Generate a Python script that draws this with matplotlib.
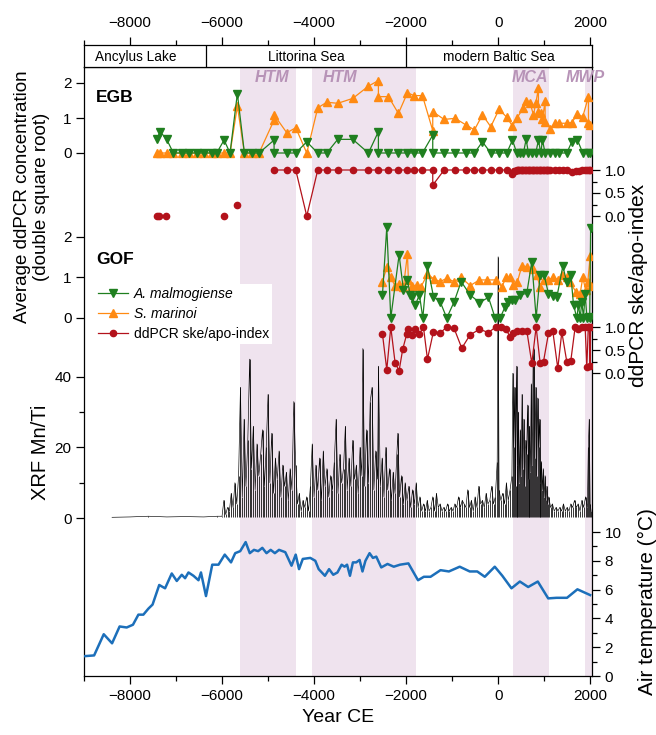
import matplotlib
matplotlib.use('Agg')
import matplotlib.pyplot as plt
from matplotlib.ticker import MultipleLocator, FixedLocator, FormatStrFormatter

plt.rcParams['font.family'] = ['Liberation Sans', 'DejaVu Sans']

# ---------------- data ----------------
periods = ['Ancylus Lake', 'Littorina Sea', 'modern Baltic Sea']
period_bounds = [-9000, -6350, -2000, 2040]
period_label_x = [-7870, -4175, 15]
warm_names = ['HTM', 'HTM', 'MCA', 'MWP']
warm_spans = [(-5600, -4400), (-4050, -1780), (320, 1110), (1880, 2040)]
warm_label_x = [-4913, -3435, 696, 1900]

egb_am_year = [-7420, -7348, -7203, -7058, -6877, -6710, -6551, -6391, -6224, -6116, -5956, -5826,
               -5667, -5514, -5355, -5196, -4869, -4869, -4594, -4398, -4159, -3920, -3725, -3485,
               -3159, -2819, -2602, -2602, -2384, -2167, -1971, -1827, -1645, -1421, -1421, -1174,
               -935, -696, -515, -341, -160, 21, 188, 311, 405, 478, 550, 608, 659, 731, 818, 876,
               927, 963, 1021, 1130, 1238, 1325, 1492, 1601, 1724, 1840, 1963, 2000]
egb_am_val = [0.39, 0.61, 0.39, 0, 0, 0, 0, 0, 0, 0, 0.37, 0,
              1.7, 0, 0, 0, 0.37, 0, 0, 0, 0.32, 0, 0, 0.39,
              0.39, 0, 0.61, 0, 0, 0, 0, 0, 0, 0.51, 0, 0,
              0, 0, 0, 0.32, 0, 0, 0, 0.37, 0, 0, 0, 0.39, 0, 0, 0, 0.37,
              0, 0.37, 0, 0, 0, 0, 0, 0.32, 0.37, 0, 0, 0]

egb_sm_year = [-7420, -7348, -7203, -7058, -6877, -6710, -6551, -6391, -6224, -6116, -5956, -5826,
               -5667, -5514, -5355, -5196, -4869, -4869, -4594, -4398, -4159, -3920, -3725, -3485,
               -3159, -2819, -2602, -2602, -2384, -2167, -1971, -1827, -1645, -1421, -1421, -1174,
               -935, -696, -515, -341, -160, 21, 188, 311, 405, 550, 608, 695, 768, 818, 876, 876,
               927, 963, 1021, 1021, 1130, 1238, 1325, 1492, 1601, 1724, 1840, 1963, 1963, 2000]
egb_sm_val = [0, 0, 0, 0, 0, 0, 0, 0, 0, 0, 0, 0,
              1.34, 0, 0, 0, 0.94, 1.09, 0.58, 0.72, 0, 1.29, 1.45, 1.42,
              1.56, 1.91, 2.07, 1.61, 1.61, 1.13, 1.72, 1.64, 1.64, 0.64, 1.18, 0.96,
              0.99, 0.8, 0.66, 1.09, 0.75, 1.25, 1.02, 0.77, 0.99, 1.29, 1.49, 1.42, 1.09, 1.42, 1.85, 1.18,
              1.13, 0.96, 1.49, 0.9, 0.7, 0.85, 0.85, 0.85, 0.87, 1.11, 1.04, 1.61, 0.85, 0.8]

egb_idx_iso_year = [-7420, -7365, -7217, -5957, -5667]
egb_idx_iso_val = [0, 0, 0, 0, 0.24]
egb_idx_year = [-4869, -4594, -4398, -4159, -3920, -3725, -3485, -3159, -2819, -2602, -2384, -2167,
                -1971, -1827, -1645, -1421, -1421, -1174, -935, -696, -515, -341, -160, 21, 188, 311,
                340, 370, 400, 430, 460, 490, 520, 550, 580, 610, 640, 670, 700, 730, 760, 790, 820,
                850, 880, 910, 940, 970, 1000, 1030, 1060, 1090, 1120, 1240, 1330, 1420, 1500, 1600,
                1700, 1760, 1820, 1880, 1940, 1980, 2000]
egb_idx_val = [1, 1, 1, 0, 1, 1, 1, 1, 1, 1, 1, 1,
               1, 1, 1, 1, 0.67, 1, 1, 1, 1, 1, 1, 1, 1, 0.91,
               0.97, 0.98, 1, 1, 1, 1, 1, 1, 1, 1, 1, 1, 1, 1, 1, 1, 1,
               1, 1, 1, 1, 1, 1, 1, 1, 1, 1, 1, 1, 1, 1, 0.96,
               0.97, 0.98, 1, 1, 1, 1, 1]

gof_am_year = [-2514, -2420, -2333, -2152, -2058, -1971, -1913, -1877, -1804, -1710, -1637, -1536,
               -1405, -1260, -1116, -956, -804, -608, -405, -210, -65, 44, 152, 225, 300, 370, 479,
               623, 732, 826, 913, 1000, 1094, 1188, 1275, 1406, 1493, 1580, 1638, 1710, 1746, 1783,
               1819, 1855, 1891, 1930, 1964, 1990, 2010]
gof_am_val = [0.57, 2.24, 0, 1.56, 0.69, 0.94, 0.57, 0.53, 0.32, 0.57, 0, 1.28,
              0.53, 0.4, 0, 0.4, 0.9, 0.57, 0.38, 0.51, 0, 0, 0.28, 0.4, 0.44, 0.44, 0.57,
              0.61, 1.39, 0, 1.07, 1.06, 0.6, 0.55, 0.51, 1.28, 0.88, 1.06, 0.33, 0, 0.32, 0,
              0.4, 0, 0.6, 0, 0.03, 0, 2.21]

gof_sm_year = [-2514, -2420, -2333, -2239, -2152, -2058, -1971, -1950, -1877, -1768, -1681, -1536,
               -1391, -1260, -1116, -960, -804, -609, -406, -246, -51, 80, 174, 261, 333, 420, 515,
               623, 768, 840, 913, 986, 1094, 1188, 1311, 1398, 1493, 1565, 1688, 1782, 1840, 1900,
               1950, 2000, 2010]
gof_sm_val = [0.9, 1.25, 1.0, 0.79, 0.85, 0.76, 1.58, 0.94, 0.79, 0.81, 0.76, 1.08,
              0.96, 0.9, 0.98, 0.9, 1.0, 0.8, 0.94, 0.94, 0.94, 0.77, 1.0, 1.0, 0.81, 0.9, 1.28,
              1.27, 1.2, 1.05, 0.77, 0.94, 0.94, 1.0, 0.94, 1.06, 1.0, 0.88, 0.65, 0.6, 1.0, 0.7,
              0.9, 1.53, 0.8]

gof_idx_year = [-2514, -2420, -2333, -2239, -2152, -2073, -1985, -1950, -1877, -1804, -1710, -1623,
                -1536, -1406, -1261, -1116, -957, -790, -609, -406, -210, -51, 58, 174, 261, 333,
                420, 515, 623, 732, 826, 913, 986, 1094, 1188, 1297, 1384, 1493, 1580, 1674, 1746,
                1819, 1891, 1927, 1960, 1985, 2000, 2010]
gof_idx_val = [0.85, 0.07, 1.0, 0.22, 0.05, 0.52, 0.85, 0.95, 0.83, 0.95, 0.85, 1.0,
               0.3, 0.9, 0.87, 1.0, 0.97, 0.54, 0.83, 0.95, 0.88, 1.0, 1.0, 0.95, 0.78, 0.86,
               0.92, 0.92, 0.92, 0.21, 1.0, 0.21, 0.25, 0.86, 0.91, 0.1, 0.89, 0.24, 0.27, 1.0, 0.95,
               1.0, 1.0, 0.13, 1.0, 1.0, 0.15, 1.0]

xrf_year = [-8390, -8000, -7600, -7200, -6800, -6400, -6100,
            -6000, -5960, -5920, -5880, -5840, -5800, -5760, -5720, -5680, -5640,
            -5600, -5560, -5520, -5480, -5440, -5400, -5360, -5320, -5280, -5240, -5200, -5160,
            -5120, -5080, -5040, -5000, -4960, -4920, -4880, -4840, -4800, -4760, -4720, -4680,
            -4640, -4600, -4560, -4520, -4480, -4440,
            -4400, -4360, -4320, -4280, -4240, -4200, -4160, -4120, -4080,
            -4040, -4000, -3960, -3920, -3880, -3840, -3800, -3760, -3720, -3680, -3640, -3600,
            -3560, -3520, -3480, -3440, -3400, -3360, -3320, -3280, -3240, -3200, -3160, -3120,
            -3080, -3040, -3000, -2960, -2940, -2900, -2860, -2820, -2780, -2740, -2700, -2660,
            -2620, -2600, -2560, -2520, -2480, -2440, -2400, -2360, -2320, -2280, -2240, -2200,
            -2180, -2140, -2100, -2060, -2020, -1980, -1940, -1900, -1860, -1820,
            -1780, -1740, -1700, -1660, -1620, -1580, -1540, -1500, -1460, -1420, -1380, -1340,
            -1300, -1260, -1220, -1180, -1140, -1100, -1060, -1020, -980, -940, -900, -860,
            -820, -780, -740, -700, -660, -620, -580, -540, -500, -460, -420, -380, -340, -300,
            -260, -220, -180, -140, -100, -60, -20, 0, 20, 60,
            100, 140, 180, 220, 260, 300,
            320, 340, 360, 380, 400, 420, 440, 460, 480, 500, 520, 540, 560, 580, 600, 620, 640,
            660, 680, 700, 720, 740, 760, 780, 800, 820, 840, 860, 880, 900, 920, 940, 960, 980,
            1000, 1020, 1040, 1060, 1080,
            1100, 1140, 1180, 1220, 1260, 1300, 1340, 1380, 1420, 1460, 1500, 1540, 1580, 1620,
            1660, 1700, 1740, 1780, 1820, 1860, 1900, 1940, 1960, 1980, 2000, 2020]
xrf_val = [0.2, 0.3, 0.5, 0.3, 0.4, 0.3, 0.5,
           0.5, 5, 1, 3, 2, 7, 3, 10, 4, 12,
           37, 6, 28, 9, 22, 45, 14, 26, 8, 21, 12, 18,
           25, 9, 20, 35, 10, 24, 7, 17, 11, 19, 6, 15,
           9, 13, 5, 14, 8, 33,
           15, 4, 7, 2, 5, 3, 6, 2, 9,
           21, 6, 15, 8, 17, 5, 19, 9, 14, 6, 12, 8,
           16, 28, 7, 18, 10, 14, 26, 8, 17, 9, 22, 11,
           15, 7, 20, 12, 48, 9, 25, 10, 33, 37, 8, 19,
           11, 43, 9, 17, 6, 20, 8, 14, 5, 13, 7, 18,
           24, 6, 12, 4, 10, 5, 9, 3, 8, 4,
           10, 3, 6, 2, 4, 2, 5, 2, 3, 6, 2, 7,
           3, 4, 2, 3, 2, 4, 2, 3, 2, 4, 3, 6,
           3, 5, 4, 3, 8, 3, 5, 2, 6, 3, 9, 4, 5, 3,
           7, 4, 5, 9, 4, 6, 16, 74, 8, 5,
           7, 4, 10, 5, 8, 12,
           41, 20, 37, 9, 43, 15, 30, 10, 25, 12, 35, 14, 28, 9, 22, 18, 32,
           11, 26, 13, 38, 15, 44, 48, 17, 37, 12, 34, 20, 28, 10, 16, 8, 14,
           6, 12, 5, 9, 4,
           6, 3, 4, 2, 3, 2, 3, 2, 4, 2, 3, 2, 4, 3,
           5, 3, 4, 2, 5, 3, 6, 3, 20, 28, 4, 2]

temp_year = [-8980, -8780, -8571, -8390, -8226, -8072, -7936, -7818, -7710, -7600, -7510, -7365,
             -7238, -7093, -6984, -6875, -6803, -6730, -6621, -6512, -6458, -6349, -6213, -6077,
             -5941, -5805, -5714, -5605, -5487, -5397, -5306, -5215, -5125, -5034, -4943, -4852,
             -4762, -4626, -4490, -4399, -4327, -4245, -4082, -3973, -3900, -3764, -3674, -3583,
             -3492, -3401, -3338, -3283, -3220, -3156, -3084, -3011, -2948, -2884, -2794, -2721,
             -2648, -2540, -2404, -2268, -2132, -1950, -1741, -1614, -1469, -1252, -1070, -835,
             -617, -454, -290, -73, 91, 290, 472, 653, 862, 1088, 1270, 1497, 1723, 2000]
temp_val = [1.38, 1.43, 2.9, 2.27, 3.44, 3.37, 3.56, 4.26, 4.26, 4.68, 4.96, 6.32,
            6.09, 7.12, 6.6, 7.03, 6.79, 7.19, 6.96, 6.65, 7.19, 5.55, 7.73, 7.73,
            8.43, 7.89, 8.53, 8.67, 9.3, 8.53, 8.76, 8.67, 8.9, 8.53, 8.76, 8.53,
            8.76, 8.6, 7.66, 8.43, 7.42, 8.13, 8.2, 8.0, 7.42, 6.96, 7.42, 7.03,
            7.19, 7.73, 7.59, 7.73, 6.96, 7.89, 7.89, 8.06, 7.26, 8.0, 8.53, 8.2,
            8.29, 7.54, 7.78, 7.59, 7.73, 7.82, 6.65, 6.89, 6.89, 7.35, 7.26, 7.59,
            7.26, 7.26, 6.89, 7.59, 6.96, 6.09, 6.56, 6.18, 6.56, 5.39, 5.43, 5.43, 6.02, 5.62]

# ---------------- styling ----------------
GREEN = '#1f7f1f'
ORANGE = '#ff8a12'
RED = '#b3121b'
BLUE = '#1c6fba'
BAND = '#efe3ee'
BANDTXT = '#b793b7'

W, H = 656, 735
L, R, T, B = 84, 592, 67, 676
XMIN, XMAX = -9000, 2040
fig = plt.figure(figsize=(W / 100, H / 100), dpi=100)


def rect(top, bot):
    return [L / W, 1 - bot / H, (R - L) / W, (bot - top) / H]


# frame axes
ax0 = fig.add_axes(rect(T, B))
ax0.set_xlim(XMIN, XMAX)
ax0.set_ylim(0, 1)
ax0.set_yticks([])
for a, b in warm_spans:
    ax0.axvspan(a, b, color=BAND, lw=0, zorder=0)
for name, xc in zip(warm_names, warm_label_x):
    ax0.text(xc, 1 - (78 - T) / (B - T), name, color=BANDTXT, fontsize=11.5, fontweight='bold',
             fontstyle='italic', ha='center', va='center', clip_on=False)
ax0.xaxis.set_major_locator(MultipleLocator(2000))
ax0.xaxis.set_minor_locator(MultipleLocator(1000))
ax0.tick_params(axis='x', which='major', direction='out', length=6, width=0.9, labelsize=11, pad=3)
ax0.tick_params(axis='x', which='minor', direction='out', length=3.5, width=0.9)
for sp in ax0.spines.values():
    sp.set_linewidth(0.9)
ax0.set_xlabel('Year CE', fontsize=14, labelpad=5)

# top strip with periods
axs = fig.add_axes([L / W, 1 - T / H, (R - L) / W, (T - 45) / H])
axs.set_xlim(XMIN, XMAX)
axs.set_ylim(0, 1)
axs.set_yticks([])
axs.xaxis.tick_top()
axs.xaxis.set_major_locator(MultipleLocator(2000))
axs.xaxis.set_minor_locator(MultipleLocator(1000))
axs.tick_params(axis='x', which='major', direction='out', length=6, width=0.9, labelsize=11, pad=5)
axs.tick_params(axis='x', which='minor', direction='out', length=3.5, width=0.9)
for sp in axs.spines.values():
    sp.set_linewidth(0.9)
for xb in period_bounds[1:-1]:
    axs.axvline(xb, color='black', lw=0.9)
for name, xc in zip(periods, period_label_x):
    axs.text(xc, 0.45, name, ha='center', va='center', fontsize=9.8)


def panel(y0, s, side, major, minor=None, fmt=None):
    ax = fig.add_axes(rect(T, B))
    ax.set_xlim(XMIN, XMAX)
    ax.set_ylim((y0 - B) / s, (y0 - T) / s)
    ax.patch.set_visible(False)
    for sp in ax.spines.values():
        sp.set_visible(False)
    ax.tick_params(axis='x', which='both', bottom=False, top=False, labelbottom=False, labeltop=False)
    if side == 'right':
        ax.yaxis.tick_right()
    ax.yaxis.set_major_locator(FixedLocator(major))
    ax.yaxis.set_minor_locator(FixedLocator(minor if minor is not None else []))
    if fmt:
        ax.yaxis.set_major_formatter(FormatStrFormatter(fmt))
    ax.tick_params(axis='y', which='major', direction='out', length=6, width=0.9, labelsize=11, pad=3)
    ax.tick_params(axis='y', which='minor', direction='out', length=3.5, width=0.9)
    return ax


lkw = dict(lw=0.9)
# XRF (drawn first so markers sit above it)
a_xrf = panel(518, 3.53, 'left', [0, 20, 40], [10, 30])
a_xrf.vlines(xrf_year, 0.3, xrf_val, color='black', lw=0.55, zorder=1)
a_xrf.plot(xrf_year, xrf_val, color='black', lw=0.45, zorder=1)

# temperature
a_t = panel(676, 14.4, 'right', [0, 2, 4, 6, 8, 10], [1, 3, 5, 7, 9])
a_t.plot(temp_year, temp_val, color=BLUE, lw=1.8)

# EGB
a_egb = panel(153, 35, 'left', [0, 1, 2])
a_egb.plot(egb_am_year, egb_am_val, color=GREEN, marker='v', ms=5.5, **lkw, zorder=3)
a_egb.plot(egb_sm_year, egb_sm_val, color=ORANGE, marker='^', ms=5.5, **lkw, zorder=2)
a_egbi = panel(216, 46, 'right', [0, 0.5, 1.0], [0.25, 0.75], '%.1f')
a_egbi.plot(egb_idx_iso_year, egb_idx_iso_val, color=RED, marker='o', ms=4.5, ls='none')
a_egbi.plot(egb_idx_year, egb_idx_val, color=RED, marker='o', ms=4.5, **lkw)

# GOF
a_gof = panel(318, 40.5, 'left', [0, 1, 2])
h1, = a_gof.plot(gof_am_year, gof_am_val, color=GREEN, marker='v', ms=5.5, **lkw, zorder=3)
h2, = a_gof.plot(gof_sm_year, gof_sm_val, color=ORANGE, marker='^', ms=5.5, **lkw, zorder=2)
a_gofi = panel(373, 46, 'right', [0, 0.5, 1.0], [0.25, 0.75], '%.1f')
h3, = a_gofi.plot(gof_idx_year, gof_idx_val, color=RED, marker='o', ms=4.5, **lkw)

# region labels
fig.text(96 / W, 1 - 98 / H, 'EGB', fontsize=12.5, fontweight='bold', va='center', ha='left')
fig.text(96 / W, 1 - 260 / H, 'GOF', fontsize=12.5, fontweight='bold', va='center', ha='left')

leg = a_gofi.legend([h1, h2, h3], ['A. malmogiense', 'S. marinoi', 'ddPCR ske/apo-index'],
                    loc='upper left', bbox_to_anchor=(95 / W, 1 - 284 / H),
                    bbox_transform=fig.transFigure, fontsize=10, frameon=True, fancybox=False,
                    borderpad=0.2, handlelength=2.2, handletextpad=0.4, labelspacing=0.45,
                    borderaxespad=0)
leg.get_frame().set_facecolor('white')
leg.get_frame().set_edgecolor('none')
leg.get_frame().set_alpha(1)
leg.get_texts()[0].set_fontstyle('italic')
leg.get_texts()[1].set_fontstyle('italic')

# axis titles
fig.text(32 / W, 1 - 197 / H, 'Average ddPCR concentration\n(double square root)', rotation=90,
         ha='center', va='center', fontsize=13.5, linespacing=1.2)
fig.text(40 / W, 1 - 452 / H, 'XRF Mn/Ti', rotation=90, ha='center', va='center', fontsize=14.5)
fig.text(639 / W, 1 - 285 / H, 'ddPCR ske/apo-index', rotation=90, ha='center', va='center',
         fontsize=15)
fig.text(647 / W, 1 - 602 / H, 'Air temperature (°C)', rotation=90, ha='center', va='center',
         fontsize=15)

fig.savefig('out.png', dpi=100)
